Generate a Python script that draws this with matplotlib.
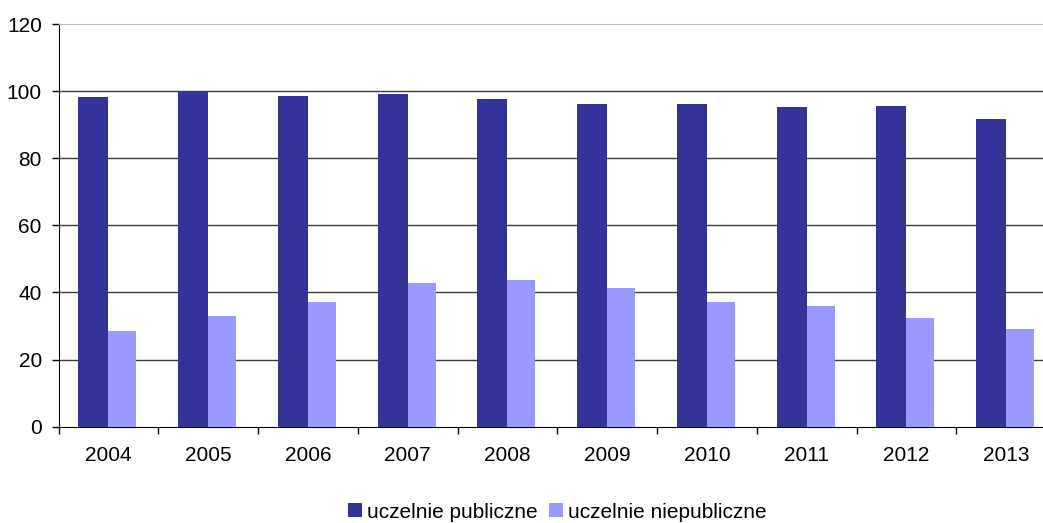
import matplotlib.pyplot as plt
import numpy as np

plt.rcParams['font.family'] = ['Liberation Sans', 'DejaVu Sans']

years = ['2004', '2005', '2006', '2007', '2008', '2009', '2010', '2011', '2012', '2013']
publiczne = [98.3, 100.0, 98.6, 99.2, 97.7, 96.2, 96.2, 95.3, 95.6, 91.8]
niepubliczne = [28.5, 33.0, 37.3, 42.7, 43.6, 41.2, 37.3, 36.1, 32.3, 29.0]

x = np.arange(len(years))

fig = plt.figure(figsize=(10.43, 5.23), dpi=100)
# plot area runs past the right edge of the picture, like the original
ax = fig.add_axes([58.5 / 1043, 1 - 426.7 / 523, 997.5 / 1043, 402.7 / 523])

ax.bar(x, publiczne, width=-0.3, align='edge', color='#333399', label='uczelnie publiczne', zorder=3)
ax.bar(x, niepubliczne, width=0.28, align='edge', color='#9999ff', label='uczelnie niepubliczne', zorder=3)

ax.set_xlim(-0.5, len(years) - 0.5)
ax.set_ylim(0, 120)
ax.set_yticks(range(0, 121, 20))
for v in range(20, 101, 20):
    ax.axhline(v, color='#3c3c3c', linewidth=1.0, zorder=1)

ax.set_xticks(np.arange(-0.5, len(years) - 1, 1.0))
ax.set_xticklabels([])
ax.set_xticks(x, minor=True)
ax.set_xticklabels(years, minor=True)
ax.tick_params(axis='x', which='major', direction='out', length=5, width=1, color='black')
ax.tick_params(axis='x', which='minor', length=0, pad=14, labelsize=15)
ax.tick_params(axis='y', direction='out', length=5, width=1, pad=7, labelsize=15)

ax.spines['top'].set_color('#c0c0c0')
ax.spines['right'].set_visible(False)
ax.spines['left'].set_color('black')
ax.spines['bottom'].set_color('black')

ax.legend(loc='center', bbox_to_anchor=(0.5, -0.212), ncol=2, frameon=False,
          fontsize=15, handlelength=0.67, handleheight=0.67, handletextpad=0.25,
          columnspacing=0.55)

fig.savefig('out.png', dpi=100)
